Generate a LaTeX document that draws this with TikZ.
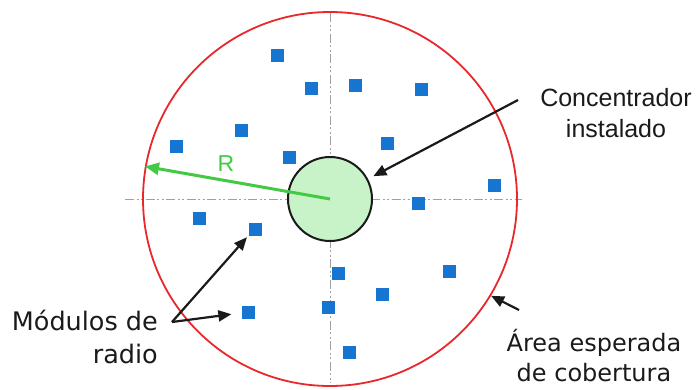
\documentclass[tikz,border=0pt]{standalone}
\usepackage{fontspec}
\setmainfont{Liberation Sans}
\newfontfamily\tahomalike{DejaVu Sans}
\usetikzlibrary{arrows.meta,positioning}
\definecolor{cover}{HTML}{E8282B}
\definecolor{module}{HTML}{1575D0}
\definecolor{hub}{HTML}{C8F2C8}
\definecolor{radius}{HTML}{44C944}
\definecolor{axis}{HTML}{A0A0A0}
\definecolor{ink}{HTML}{1A1A1A}
\tikzset{
  every node/.style={text=ink},
  modbox/.style={fill=module,minimum size=13pt,inner sep=0pt},
  hubcircle/.style={circle,draw=ink,line width=2pt,fill=hub,minimum size=84pt,inner sep=0pt},
  areacircle/.style={circle,draw=cover,line width=1.8pt,minimum size=374pt,inner sep=0pt},
  axisline/.style={draw=axis,line width=1pt,dash pattern=on 9pt off 2.5pt on 2pt off 2.5pt on 2pt off 2.5pt},
  arrow/.style={-{Triangle[length=13pt,width=11pt]},line width=2.2pt,draw=ink},
  radarrow/.style={-{Triangle[length=14pt,width=12pt]},line width=3pt,draw=radius},
  caption/.style={align=center,inner sep=0pt},
}

\begin{document}
\begin{tikzpicture}[x=1pt,y=-1pt]
\useasboundingbox (0,0) rectangle (698,389);

% axes through the concentrator
\draw[axisline] (125,199) -- (522,199);
\draw[axisline] (330,13) -- (330,383);

\node[areacircle] (area) at (330,199) {};

% radio modules
\foreach \x/\y [count=\i] in {277/55, 311/88, 355/85, 421/89, 241/130, 176/146, 289/157, 387/143, 494/185,
  418/203, 199/218, 255/229, 338/273, 449/271, 382/294, 328/307, 248/312, 349/352}
  \node[modbox] (m\i) at (\x,\y) {};

\node[hubcircle] (conc) at (330,199) {};

\draw[radarrow] (conc.center) -- (area.170);
\node[text=radius,font=\fontsize{23}{26}\selectfont] (rlab) at (226,164) {R};

% labels
\node[caption,font=\fontsize{25}{31}\selectfont] (conclab) at (616,113) {Concentrador\\instalado};
\node[caption,align=right,anchor=east,font=\tahomalike\fontsize{25.5}{33}\selectfont] (modlab) at (158,337) {Módulos de\\radio};
\node[caption,font=\tahomalike\fontsize{24}{30}\selectfont] (arealab) at (594,356) {Área esperada\\de cobertura};

\coordinate (cstart) at (518,100);
\coordinate (mstart) at (172,322);
\coordinate (astart) at (519,310);

\draw[arrow,shorten >=6pt] (cstart) -- (conc);
\draw[arrow,shorten >=2pt] (mstart) -- (m12.south west);
\draw[arrow,shorten >=10pt] (mstart) -- (m17);
\draw[arrow] (astart) -- (area.-31);

\end{tikzpicture}
\end{document}
